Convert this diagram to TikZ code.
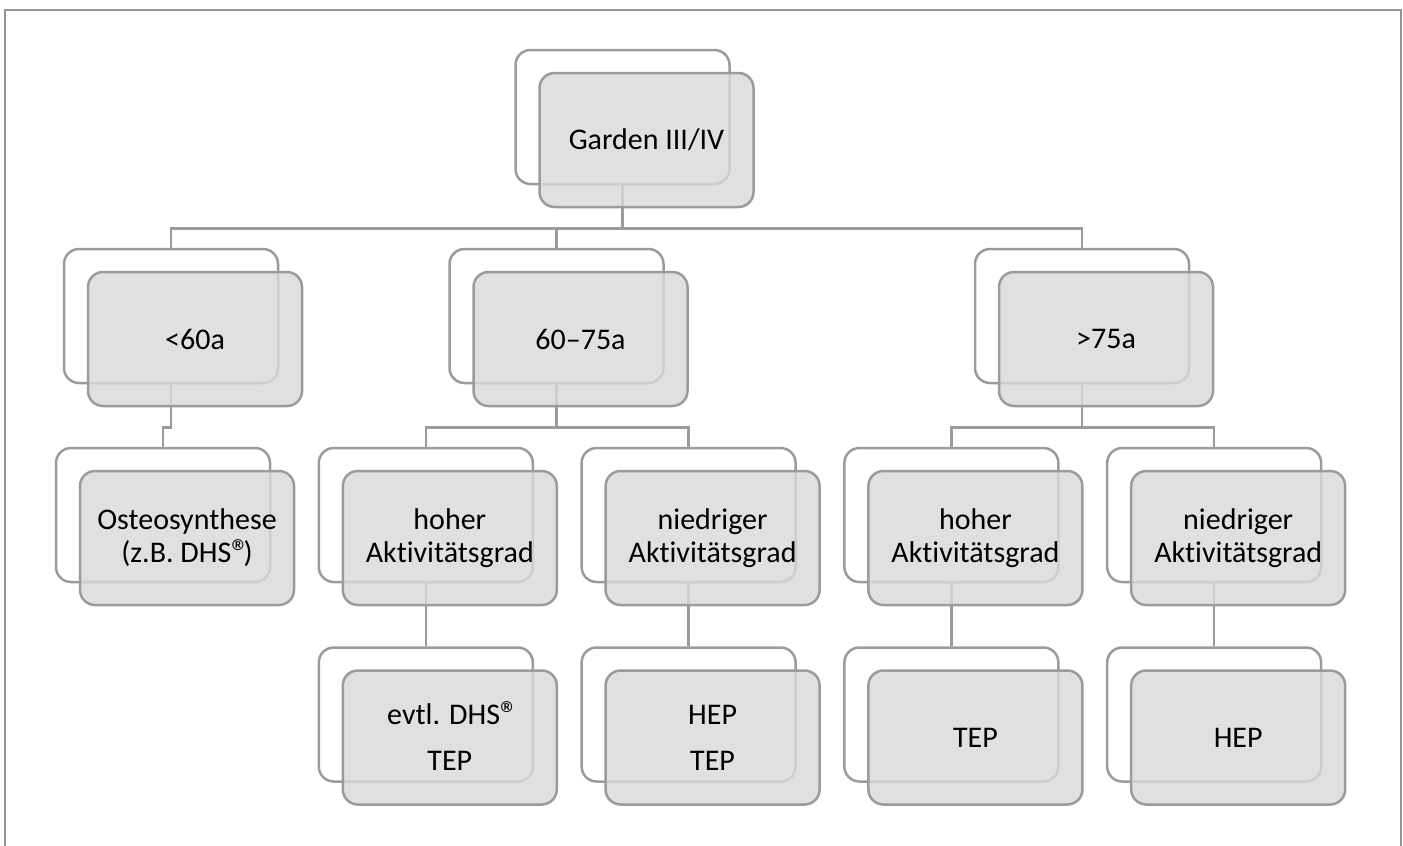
\documentclass[tikz,border=0pt]{standalone}
\usepackage{fontspec}
\setmainfont{Carlito}[Ligatures={NoCommon,NoRequired}]
\usepackage{tikz}
\usetikzlibrary{calc,positioning}
\definecolor{linegray}{RGB}{155,155,155}
\definecolor{boxgray}{RGB}{217,217,217}
\newcommand{\regmark}{\smash{\fontsize{18}{18}\selectfont\raisebox{-0.8pt}{®}}\kern-3pt}
\tikzset{%
	back/.style  = {draw=linegray, line width=1.25pt, rectangle, rounded corners=7.5pt, minimum width=107pt, minimum height=67pt}, % frame behind
	front/.style = {back, fill=boxgray, fill opacity=0.81, text opacity=1, align=center, font=\fontsize{15}{16.5}\selectfont}, % box in front
	link/.style  = {draw=linegray, line width=1.25pt},
	frame/.style = {draw=gray!85, line width=1pt},
}
\begin{document}
\begin{tikzpicture}[x=1pt,y=1pt,node distance=131.4pt]
		\useasboundingbox (0,0) rectangle (701.5,-423);
		\draw[frame] (2.5,-430) |- (700.5,-5) -- (700.5,-430);
		
		% back frames
		\node [back] (gs) at (311.25,-58.5) {};
		\node [back] (a1s) at (85.5,-158) {};
		\node [back] (a2s) at (278.25,-158) {};
		\node [back] (a3s) at (541,-158) {};
		\node [back] (b1s) at (81.5,-257.5) {};
		\node [back] (b2s) [right of=b1s] {};
		\node [back] (b3s) [right of=b2s] {};
		\node [back] (b4s) [right of=b3s] {};
		\node [back] (b5s) [right of=b4s] {};
		\node [back] (c2s) [below of=b2s,node distance=99.75pt] {};
		\node [back] (c3s) [below of=b3s,node distance=99.75pt] {};
		\node [back] (c4s) [below of=b4s,node distance=99.75pt] {};
		\node [back] (c5s) [below of=b5s,node distance=99.75pt] {};
		
		\draw[link] (gs.south) -- ++(0,-21.5) -| (a1s.north);
		\draw[link] (gs.south) -- ++(0,-21.5) -| (a2s.north);
		\draw[link] (gs.south) -- ++(0,-21.5) -| (a3s.north);
		\draw[link] (a1s.south) -- ++(0,-21.5) -| (b1s.north);
		\draw[link] (a2s.south) -- ++(0,-21.5) -| (b2s.north);
		\draw[link] (a2s.south) -- ++(0,-21.5) -| (b3s.north);
		\draw[link] (a3s.south) -- ++(0,-21.5) -| (b4s.north);
		\draw[link] (a3s.south) -- ++(0,-21.5) -| (b5s.north);
		\draw[link] (b2s) -- (c2s);
		\draw[link] (b3s) -- (c3s);
		\draw[link] (b4s) -- (c4s);
		\draw[link] (b5s) -- (c5s);
		
		% boxes in front
		\node [front] (g) at ($(gs)+(12,-11.5)$) {Garden III/IV};
		\node [front] (a1) at ($(a1s)+(12,-11.5)$) {<60a};
		\node [front] (a2) at ($(a2s)+(12,-11.5)$) {60–75a};
		\node [front] (a3) at ($(a3s)+(12,-11.5)$) {>75a};
		\node [front] (b1) at ($(b1s)+(12,-11.5)$) {Osteosynthese\\(z.B. DHS\regmark)};
		\node [front] (b2) at ($(b2s)+(12,-11.5)$) {hoher\\Aktivitätsgrad};
		\node [front] (b3) at ($(b3s)+(12,-11.5)$) {niedriger\\Aktivitätsgrad};
		\node [front] (b4) at ($(b4s)+(12,-11.5)$) {hoher\\Aktivitätsgrad};
		\node [front] (b5) at ($(b5s)+(12,-11.5)$) {niedriger\\Aktivitätsgrad};
		\node [front] (c2) at ($(c2s)+(12,-11.5)$) {evtl. DHS\regmark\\[6.5pt]TEP};
		\node [front] (c3) at ($(c3s)+(12,-11.5)$) {HEP\\[6.5pt]TEP};
		\node [front] (c4) at ($(c4s)+(12,-11.5)$) {TEP};
		\node [front] (c5) at ($(c5s)+(12,-11.5)$) {HEP};
\end{tikzpicture}
\end{document}
